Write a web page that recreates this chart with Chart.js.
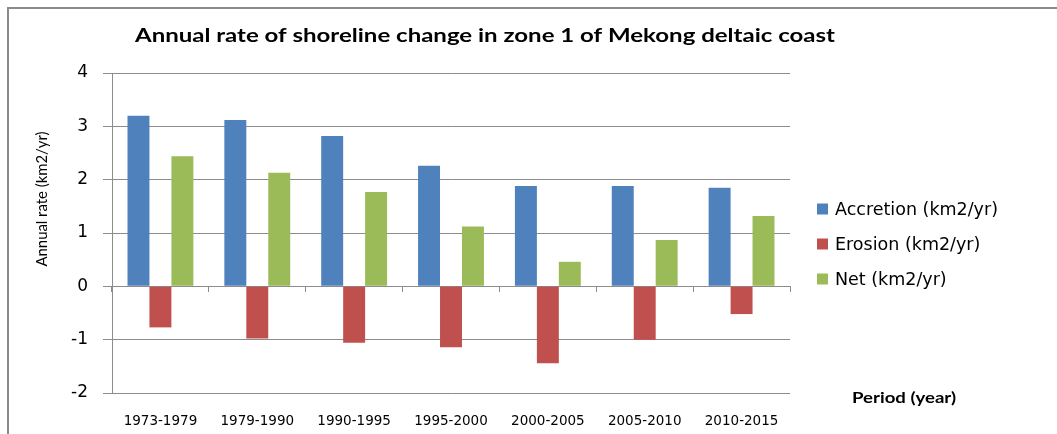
<!DOCTYPE html>
<html>
<head>
<meta charset="utf-8">
<script src="https://cdn.jsdelivr.net/npm/chart.js@4.4.1/dist/chart.umd.min.js"></script>
<style>
  html, body { margin: 0; padding: 0; background: #fff; overflow: hidden; }
  #wrap { position: relative; width: 1057px; height: 434px; }
  #frame { position: absolute; left: 7px; top: 7px; width: 2000px; height: 2000px;
           border-left: 2px solid #8a8a8a; border-top: 2px solid #8a8a8a; box-sizing: border-box; }
  canvas { position: absolute; left: 0; top: 0; }
</style>
</head>
<body>
<div id="wrap">
  <div id="frame"></div>
  <canvas id="c" width="1057" height="434"></canvas>
</div>
<script>
const chartTitle = 'Annual rate of shoreline change in zone 1 of Mekong deltaic coast';
const yAxisTitle = 'Annual rate (km2/yr)';
const xAxisTitle = 'Period (year)';
const categories = ['1973-1979', '1979-1990', '1990-1995', '1995-2000', '2000-2005', '2005-2010', '2010-2015'];
const seriesNames = ['Accretion (km2/yr)', 'Erosion (km2/yr)', 'Net (km2/yr)'];
const accretion = [3.20, 3.12, 2.82, 2.26, 1.88, 1.88, 1.85];
const erosion = [-0.77, -0.98, -1.06, -1.14, -1.44, -1.00, -0.52];
const net = [2.44, 2.13, 1.77, 1.12, 0.46, 0.87, 1.32];
const yMin = -2, yMax = 4, yStep = 1;

const seriesColors = ['#4F81BD', '#C0504D', '#9BBB59'];
const gridColor = '#8c8c8c';

function drawStretched(ctx, text, x, y, targetWidth, align) {
  const w = ctx.measureText(text).width;
  const sx = targetWidth / w;
  ctx.save();
  ctx.translate(x, y);
  ctx.scale(sx, 1);
  ctx.textAlign = align;
  ctx.fillText(text, 0, 0);
  ctx.restore();
}

const textPlugin = {
  id: 'texts',
  afterDraw(chart) {
    const ctx = chart.ctx;
    ctx.save();
    ctx.fillStyle = '#000';
    ctx.textBaseline = 'alphabetic';
    // title
    ctx.font = 'bold 19px Lato';
    drawStretched(ctx, chartTitle, 485, 42, 700, 'center');
    // y axis title
    ctx.save();
    ctx.translate(47, 199);
    ctx.rotate(-Math.PI / 2);
    ctx.font = '15px Lato';
    drawStretched(ctx, yAxisTitle, 0, 0, 135, 'center');
    ctx.restore();
    // x axis title
    ctx.font = 'bold 15px Lato';
    drawStretched(ctx, xAxisTitle, 852, 403, 104, 'left');
    // legend
    const items = chart.data.datasets;
    const ys = [209, 244, 279];
    ctx.font = '17.5px "DejaVu Sans"';
    ctx.textBaseline = 'middle';
    items.forEach((ds, i) => {
      ctx.fillStyle = ds.backgroundColor;
      ctx.fillRect(817, ys[i] - 5.5, 11, 11);
      ctx.fillStyle = '#000';
      ctx.textAlign = 'left';
      ctx.fillText(ds.label, 835, ys[i] + 1);
    });
    ctx.restore();
  }
};

new Chart(document.getElementById('c'), {
  type: 'bar',
  data: {
    labels: categories,
    datasets: [
      { label: seriesNames[0], data: accretion, backgroundColor: seriesColors[0] },
      { label: seriesNames[1], data: erosion, backgroundColor: seriesColors[1] },
      { label: seriesNames[2], data: net, backgroundColor: seriesColors[2] }
    ]
  },
  options: {
    responsive: false,
    animation: false,
    devicePixelRatio: 1,
    categoryPercentage: 0.68,
    barPercentage: 1.0,
    layout: { padding: { left: 0, right: 267, top: 73, bottom: 0 } },
    plugins: {
      legend: { display: false },
      title: { display: false },
      tooltip: { enabled: false }
    },
    scales: {
      x: {
        type: 'category',
        position: 'bottom',
        grid: { display: false },
        border: { display: false },
        ticks: { color: '#000', font: { family: 'DejaVu Sans', size: 13.5 }, padding: 12, maxRotation: 0 },
        afterFit(scale) { scale.height = 41; }
      },
      x0: {
        type: 'category',
        position: { y: 0 },
        grid: { display: true, drawOnChartArea: false, drawTicks: true, tickLength: 5, offset: true, color: gridColor },
        border: { display: true, color: gridColor, width: 1 },
        ticks: { display: false }
      },
      y: {
        min: yMin,
        max: yMax,
        grid: { color: gridColor, tickLength: 9, drawTicks: true },
        border: { display: true, color: gridColor },
        ticks: { stepSize: yStep, color: '#000', font: { family: 'DejaVu Sans', size: 17 }, padding: 15 },
        afterFit(scale) { scale.width = 112; }
      }
    }
  },
  plugins: [textPlugin]
});
</script>
</body>
</html>
